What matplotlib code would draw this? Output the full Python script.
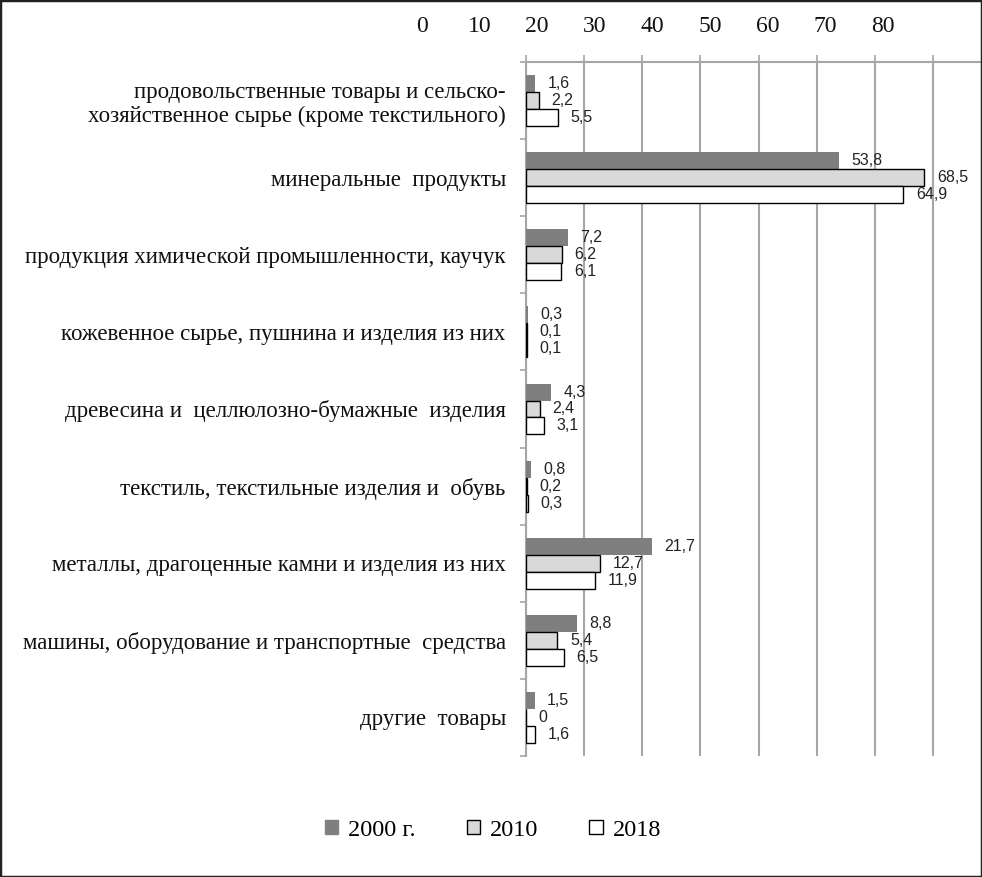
import numpy as np
import matplotlib.pyplot as plt
from matplotlib.patches import Rectangle, Patch

# данные
cats = ['продовольственные товары и сельско-\nхозяйственное сырье (кроме текстильного)',
        'минеральные  продукты',
        'продукция химической промышленности, каучук',
        'кожевенное сырье, пушнина и изделия из них',
        'древесина и  целлюлозно-бумажные  изделия',
        'текстиль, текстильные изделия и  обувь',
        'металлы, драгоценные камни и изделия из них',
        'машины, оборудование и транспортные  средства',
        'другие  товары']
v2000 = [1.6, 53.8, 7.2, 0.3, 4.3, 0.8, 21.7, 8.8, 1.5]
v2010 = [2.2, 68.5, 6.2, 0.1, 2.4, 0.2, 12.7, 5.4, 0]
v2018 = [5.5, 64.9, 6.1, 0.1, 3.1, 0.3, 11.9, 6.5, 1.6]
years = ['2000 г.', '2010', '2018']
top_ticks = [0, 10, 20, 30, 40, 50, 60, 70, 80]

serif = ['Liberation Serif', 'DejaVu Serif']
sans = ['Liberation Sans', 'DejaVu Sans']
grid_c = '#a6a6a6'

W, H = 982, 877
fig = plt.figure(figsize=(W / 100, H / 100), dpi=100)
fig.patches.append(Rectangle((0, 0), 1, 1, transform=fig.transFigure, fill=False,
                             edgecolor='#222222', lw=2.5))

ax = fig.add_axes([526 / W, 1 - 756 / H, (981 - 526) / W, (756 - 62) / H])
y = np.arange(len(cats))
h = 0.22
styles = [dict(color='#7f7f7f', edgecolor='none'),
          dict(color='#d9d9d9', edgecolor='black', lw=1),
          dict(color='white', edgecolor='black', lw=1)]
for i, vals in enumerate([v2000, v2010, v2018]):
    bars = ax.barh(y + (i - 1) * h, vals, height=h, zorder=3, **styles[i])
    for b, v in zip(bars, vals):
        ax.annotate(f'{v:g}'.replace('.', ','), (b.get_width(), b.get_y() + h / 2),
                    xytext=(9, 0), textcoords='offset points', ha='left', va='center',
                    fontsize=11.5, family=sans, color='#222222', zorder=4)

ax.set_xlim(0, 455 / 5.814)
ax.set_ylim(len(cats) - 0.5, -0.5)
ax.set_xticks(range(0, 80, 10))
ax.xaxis.tick_top()
ax.tick_params(axis='x', labeltop=False, length=5, color=grid_c, width=1.2)
ax.grid(axis='x', color=grid_c, lw=1.5, zorder=0)
ax.set_yticks(y)
ax.set_yticklabels(cats, family=serif, fontsize=16.5, color='#111111')
ax.set_yticks(np.arange(-0.5, len(cats), 1), minor=True)
ax.tick_params(axis='y', which='major', length=0, pad=14.5)
ax.tick_params(axis='y', which='minor', length=4.5, color=grid_c, width=1.2)
for s in ['right', 'bottom']:
    ax.spines[s].set_visible(False)
for s in ['top', 'left']:
    ax.spines[s].set_color(grid_c)
    ax.spines[s].set_linewidth(1.5)

# подписи шкалы сверху
ax2 = fig.add_axes([422 / W, 1 - 37 / H, 461 / W, 0.0001])
ax2.set_xlim(0, 80)
ax2.set_xticks(top_ticks)
ax2.set_xticklabels([str(t) for t in top_ticks], family=serif, fontsize=17, color='#111111')
ax2.tick_params(axis='x', top=True, labeltop=True, bottom=False, labelbottom=False, length=0, pad=0)
ax2.set_yticks([])
ax2.patch.set_visible(False)
for s in ax2.spines.values():
    s.set_visible(False)

handles = [Patch(facecolor='#7f7f7f', edgecolor='#7f7f7f'),
           Patch(facecolor='#d9d9d9', edgecolor='black'),
           Patch(facecolor='white', edgecolor='black')]
fig.legend(handles, years, loc='center', bbox_to_anchor=(0.502, 1 - 830 / H), ncol=3,
           frameon=False, prop={'family': serif, 'size': 17.5}, handlelength=0.55,
           handleheight=0.55, handletextpad=0.4, columnspacing=2.1)

fig.savefig('out.png', dpi=100)
